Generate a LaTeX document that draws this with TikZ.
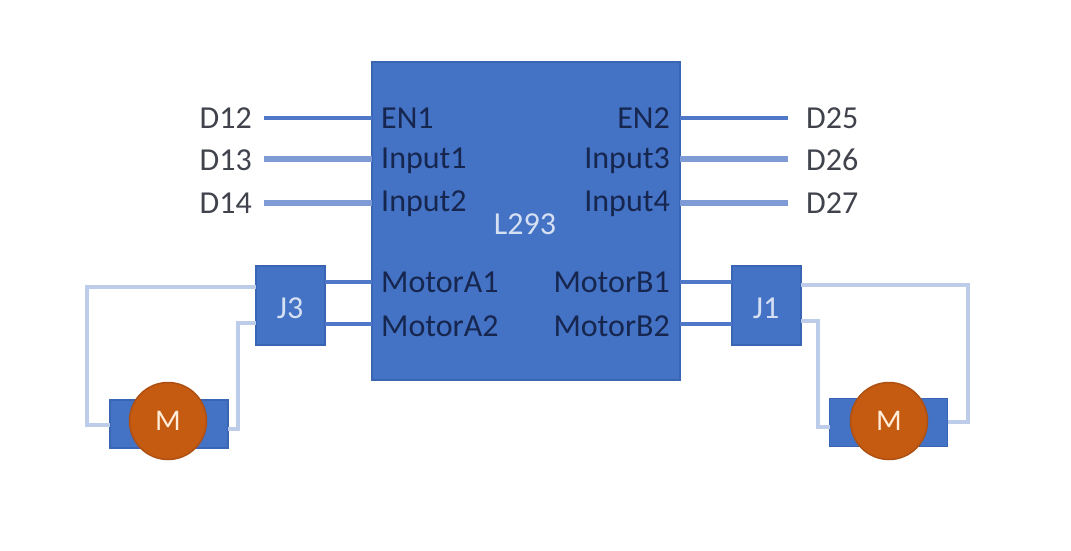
\documentclass[tikz,border=0pt]{standalone}
\usepackage{fontspec}
\setmainfont{Carlito}
\definecolor{fillblue}{HTML}{4472C4}
\definecolor{edgeblue}{HTML}{3A64B4}
\definecolor{wireA}{HTML}{4F79C8}
\definecolor{wireB}{HTML}{7F9BD6}
\definecolor{wireC}{HTML}{BCCCE9}
\definecolor{motororange}{HTML}{C55A11}
\definecolor{edgeorange}{HTML}{AD5013}
\definecolor{darktext}{HTML}{16264F}
\definecolor{outtext}{HTML}{40434C}
\definecolor{lighttext}{HTML}{D5E0F3}
\tikzset{
  x=1pt,y=-1pt,
  bluebox/.style={draw=edgeblue,line width=1.5pt,fill=fillblue,minimum width=#1,inner sep=0pt,outer sep=0pt},
  pinlabel/.style={font=\fontsize{32}{32}\selectfont,text=darktext,inner sep=0pt},
  outlabel/.style={font=\fontsize{32}{32}\selectfont,text=outtext,inner sep=0pt},
  boxlabel/.style={font=\fontsize{32}{32}\selectfont,text=lighttext,inner sep=0pt},
  strongwire/.style={draw=wireA,line width=4pt},
  softwire/.style={draw=wireB,line width=5.5pt},
  motorwire/.style={draw=wireC,line width=4pt,line join=miter},
  rotor/.style={circle,draw=edgeorange,line width=1.5pt,fill=motororange,minimum size=77pt,inner sep=0pt,text=white!85!orange,font=\fontsize{30}{30}\selectfont}
}
\begin{document}
\begin{tikzpicture}
\useasboundingbox (0,0) rectangle (1071,550);
% outer labels
\node[outlabel,anchor=base east] (d12) at (252,128) {D12};
\node[outlabel,anchor=base east] (d13) at (252,170) {D13};
\node[outlabel,anchor=base east] (d14) at (252,213) {D14};
\node[outlabel,anchor=base west] (d25) at (806,128) {D25};
\node[outlabel,anchor=base west] (d26) at (806,170) {D26};
\node[outlabel,anchor=base west] (d27) at (806,213) {D27};
% connector end points next to the labels
\coordinate (d12w) at (264,118);
\coordinate (d13w) at (264,159);
\coordinate (d14w) at (264,203);
\coordinate (d25w) at (788,118);
\coordinate (d26w) at (788,159);
\coordinate (d27w) at (788,203);
% boxes
\node[bluebox=308pt,minimum height=318pt] (chip) at (526,221) {};
\node[bluebox=69pt,minimum height=79pt] (j3) at (290.5,305.5) {};
\node[bluebox=69pt,minimum height=79pt] (j1) at (766.5,305.5) {};
\node[bluebox=118pt,minimum height=48pt] (mleft) at (169,424) {};
\node[bluebox=118pt,minimum height=48pt] (mright) at (888.5,422.5) {};
% connectors
\draw[strongwire] (d12w) -- (d12w -| chip.west);
\draw[softwire] (d13w) -- (d13w -| chip.west);
\draw[softwire] (d14w) -- (d14w -| chip.west);
\draw[strongwire] (d25w) -- (d25w -| chip.east);
\draw[softwire] (d26w) -- (d26w -| chip.east);
\draw[softwire] (d27w) -- (d27w -| chip.east);
\coordinate (a1) at (372,282);
\coordinate (a2) at (372,324);
\coordinate (b1) at (680,282);
\coordinate (b2) at (680,324);
\draw[strongwire] (a1) -- (a1 -| j3.east);
\draw[strongwire] (a2) -- (a2 -| j3.east);
\draw[strongwire] (b1) -- (b1 -| j1.west);
\draw[strongwire] (b2) -- (b2 -| j1.west);
\draw[motorwire] (j3.west |- 0,287) -- (87,287) -- (87,425) -- (mleft.west |- 0,425);
\draw[motorwire] (j3.west |- 0,323) -- (238,323) -- (238,429) -- (mleft.east |- 0,429);
\draw[motorwire] (j1.east |- 0,285) -- (968,285) -- (968,422) -- (mright.east |- 0,422);
\draw[motorwire] (j1.east |- 0,321) -- (818,321) -- (818,427) -- (mright.west |- 0,427);
% rotors
\node[rotor] (rl) at (168,421) {M};
\node[rotor] (rr) at (889,421) {M};
% box labels
\node[boxlabel,anchor=base] (jl3) at (290,318) {J3};
\node[boxlabel,anchor=base] (jl1) at (766,318) {J1};
\node[boxlabel,anchor=base] (name) at (525,234) {L293};
\node[pinlabel,anchor=base west] (en1) at (381,128) {EN1};
\node[pinlabel,anchor=base west] (in1) at (381,168) {Input1};
\node[pinlabel,anchor=base west] (in2) at (381,211) {Input2};
\node[pinlabel,anchor=base west] (ma1) at (381,292) {MotorA1};
\node[pinlabel,anchor=base west] (ma2) at (381,336) {MotorA2};
\node[pinlabel,anchor=base east] (en2) at (670,128) {EN2};
\node[pinlabel,anchor=base east] (in3) at (670,168) {Input3};
\node[pinlabel,anchor=base east] (in4) at (670,211) {Input4};
\node[pinlabel,anchor=base east] (mb1) at (670,292) {MotorB1};
\node[pinlabel,anchor=base east] (mb2) at (670,336) {MotorB2};
\end{tikzpicture}
\end{document}
